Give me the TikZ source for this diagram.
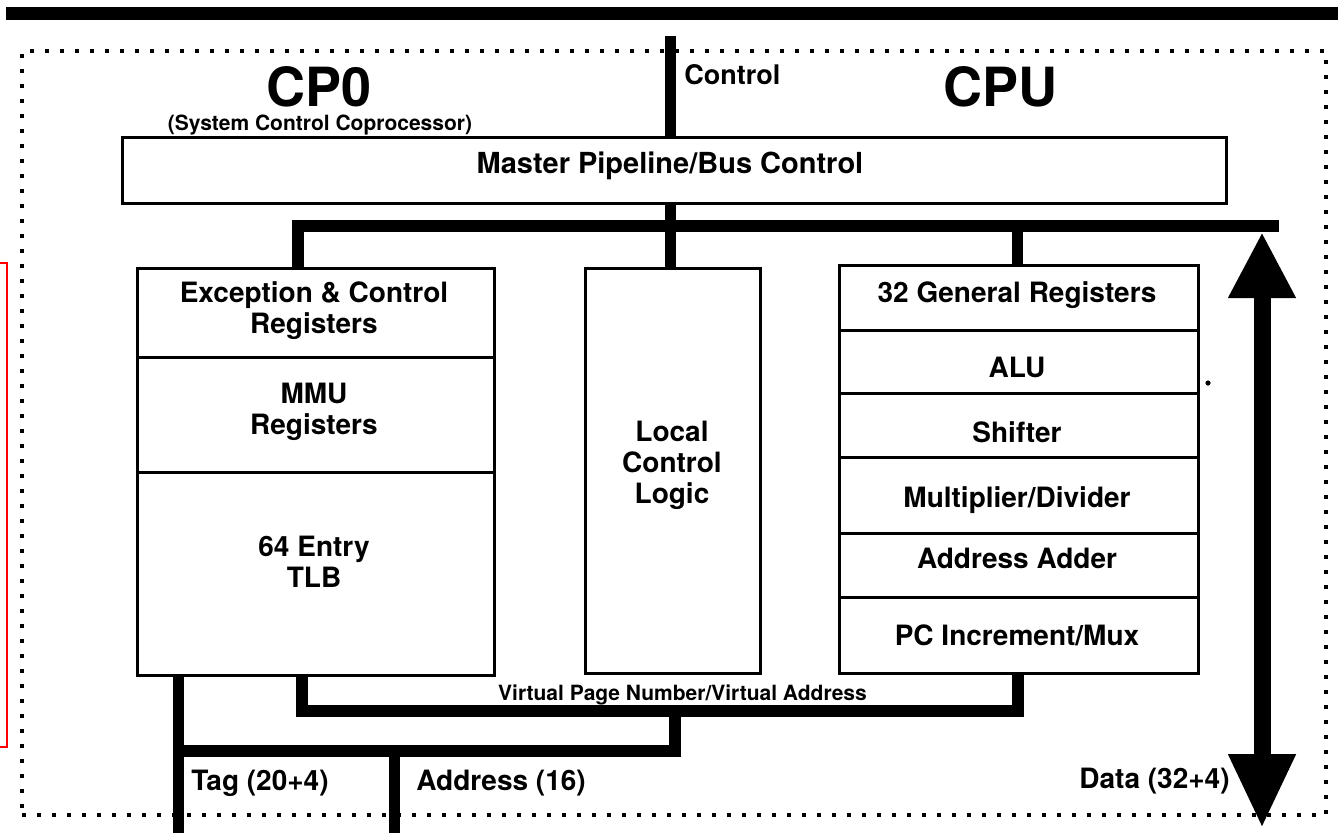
\documentclass[tikz,border=0pt]{standalone}
\usepackage{fontspec}
\setmainfont{TeX Gyre Heros}
\usetikzlibrary{arrows.meta}
\tikzset{
  sect/.style={draw, line width=1.5pt, inner sep=0pt, outer sep=0pt},
  bus/.style={line width=6pt, line join=miter},
  wire/.style={line width=5.5pt},
  frame/.style={draw, line width=1.8pt, dash pattern=on 2.2pt off 5.3pt, inner sep=0pt, outer sep=0pt},
  txt/.style={font=\bfseries\fontsize{14}{15.5}\selectfont, align=center, inner sep=0pt},
  smalltxt/.style={font=\bfseries\fontsize{10.5}{11.5}\selectfont, inner sep=0pt},
  bigtxt/.style={font=\bfseries\fontsize{27}{30}\selectfont, inner sep=0pt},
  databus/.style={line width=8.5pt,
    {Triangle[length=33pt,width=31.5pt]}-{Triangle[length=37pt,width=31.5pt]}}
}
\begin{document}
\begin{tikzpicture}[x=0.5pt,y=-0.5pt]
\useasboundingbox (0,0) rectangle (1344,832);
\clip (0,0) rectangle (1344,832);

% system bus along the top edge
\coordinate (topL) at (6,13);
\coordinate (topR) at (1338,13);
\draw[line width=6.5pt] (topL) -- (topR);

% dotted outline of the processor
\node[frame, minimum width=652pt, minimum height=382pt] (chip) at (674,433) {};

% side marker
\draw[red, line width=1pt] (-10,263) rectangle (7,747);

% headings
\node[bigtxt] (cp0) at (319,94) {\strut CP0};
\node[smalltxt] (cp0sub) at (320,126) {\strut (System Control Coprocessor)};
\node[bigtxt] (cpu) at (1000,94) {\strut CPU};
\node[txt, anchor=west, font=\bfseries\fontsize{13.5}{15}\selectfont] (ctl) at (684,78) {\strut Control};

% master control block
\node[sect, minimum width=552pt, minimum height=33pt] (master) at (674,170) {};
\node[txt, font=\bfseries\fontsize{14.5}{16}\selectfont] (mastert) at (670,167) {\strut Master Pipeline/Bus Control};

% CP0 register stack
\node[sect, minimum width=178.5pt, minimum height=44.5pt] (exc) at (315.5,312.5) {};
\node[sect, minimum width=178.5pt, minimum height=57.5pt] (mmu) at (315.5,414.5) {};
\node[sect, minimum width=178.5pt, minimum height=101.5pt] (tlb) at (315.5,573.5) {};
\node[txt] (exct) at (314,311.5) {\strut Exception \& Control\\\strut Registers};
\node[txt] (mmut) at (314,413) {\strut MMU\\\strut Registers};
\node[txt] (tlbt) at (314,565.5) {\strut 64 Entry\\\strut TLB};

% local control logic
\node[sect, minimum width=87.5pt, minimum height=202.5pt] (local) at (672.5,470.5) {};
\node[txt] (localt) at (672,466) {\strut Local\\\strut Control\\\strut Logic};

% CPU data path stack
\node[sect, minimum width=179.5pt, minimum height=32.5pt] (gpr) at (1018.5,297.5) {};
\node[sect, minimum width=179.5pt, minimum height=31.5pt] (alu) at (1018.5,361.5) {};
\node[sect, minimum width=179.5pt, minimum height=32pt] (shf) at (1018.5,425) {};
\node[sect, minimum width=179.5pt, minimum height=38pt] (mul) at (1018.5,495) {};
\node[sect, minimum width=179.5pt, minimum height=32pt] (aadd) at (1018.5,565) {};
\node[sect, minimum width=179.5pt, minimum height=38pt] (pcm) at (1018.5,635) {};
\node[txt] (gprt) at (1017,296) {\strut 32 General Registers};
\node[txt] (alut) at (1017,371) {\strut ALU};
\node[txt] (shft) at (1017,436) {\strut Shifter};
\node[txt] (mult) at (1017,501) {\strut Multiplier/Divider};
\node[txt] (aaddt) at (1017,562) {\strut Address Adder};
\node[txt] (pcmt) at (1017,639) {\strut PC Increment/Mux};

% control line through the master block
\coordinate (ctlTop) at (670,36);
\draw[wire] (ctlTop) -- (master.north -| ctlTop);
\draw[wire] (master.south -| ctlTop) -- (local.north -| ctlTop);

% internal bus
\coordinate (busL) at (298,226);
\coordinate (busR) at (1279,226);
\coordinate (busG) at (1017,226);
\draw[bus] (exc.north -| busL) -- (busL) -- (busR);
\draw[wire] (busG) -- (gpr.north -| busG);

% bidirectional data path
\coordinate (dTop) at (1262,232);
\coordinate (dBot) at (1262,828);
\draw[databus] (dTop) -- (dBot);
\node[txt, anchor=east] (datat) at (1230,782) {\strut Data (32+4)};

% virtual page number / virtual address path
\coordinate (vpnL) at (302,711);
\coordinate (vpnR) at (1018,711);
\coordinate (vpnM) at (675,711);
\draw[bus] (tlb.south -| vpnL) -- (vpnL) -- (vpnR) -- (pcm.south -| vpnR);
\node[smalltxt] (vpnt) at (682.5,696) {\strut Virtual Page Number/Virtual Address};

% tag and address outputs
\coordinate (tagJ) at (178,751);
\coordinate (tagEnd) at (178,840);
\coordinate (lclB) at (675,751);
\coordinate (addrTop) at (394,751);
\coordinate (addrEnd) at (394,840);
\draw[wire] (tlb.south -| tagEnd) -- (tagEnd);
\draw[bus] (vpnM) -- (lclB) -- (tagJ);
\draw[wire] (addrTop) -- (addrEnd);
\node[txt, anchor=west] (tagt) at (191,784) {\strut Tag (20+4)};
\node[txt, anchor=west] (addrt) at (416,784) {\strut Address (16)};

% stray mark beside the ALU row
\fill (1208,383) circle (1.3pt);
\end{tikzpicture}
\end{document}
